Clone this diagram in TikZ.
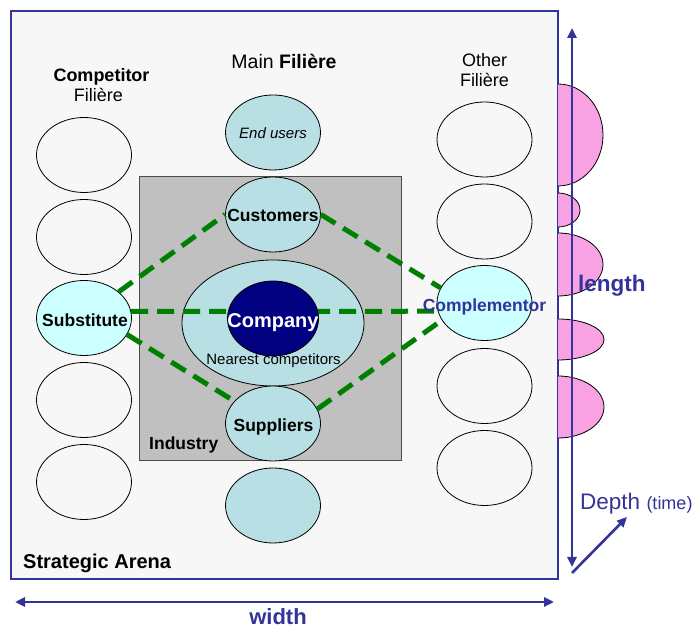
\documentclass[tikz,border=0pt]{standalone}
\usepackage{fontspec}
\setmainfont{Liberation Sans}
\usetikzlibrary{shapes.geometric,arrows.meta}

\definecolor{arena}{RGB}{247,247,247}
\definecolor{axisblue}{RGB}{51,51,153}
\definecolor{industrygray}{RGB}{192,192,192}
\definecolor{filfill}{RGB}{184,224,228}
\definecolor{sidefill}{RGB}{204,255,255}
\definecolor{navy}{RGB}{0,0,128}
\definecolor{linkgreen}{RGB}{0,128,0}
\definecolor{bump}{RGB}{248,162,228}

\newcommand{\fs}[1]{\fontsize{#1}{#1}\selectfont}

\tikzset{
  oval/.style={ellipse, draw=black, line width=0.8pt, minimum width=95pt,
    minimum height=75pt, inner sep=0pt},
  filoval/.style={oval, fill=filfill},
  sideoval/.style={oval, fill=sidefill},
  link/.style={draw=linkgreen, line width=5pt, dash pattern=on 17pt off 9pt},
  axis/.style={draw=axisblue, line width=2.6pt},
  axtip/.tip={Triangle[length=10pt,width=9pt]},
  lab/.style={inner sep=0pt, anchor=base, text=black},
  bumpfill/.style={fill=bump},
  bumpline/.style={draw=black, line width=0.8pt}
}

\begin{document}
\begin{tikzpicture}[x=1pt,y=1pt]
\useasboundingbox (0,0) rectangle (700,628);

% strategic arena
\node[draw=axisblue, line width=1.5pt, fill=arena, minimum width=547pt,
      minimum height=568pt, inner sep=0pt, anchor=south west] (arena) at (10,48) {};

% time-depth bumps on the right edge
\foreach \cy/\rx/\ry in {493/45/51, 418/22/17, 363.5/45/31.5, 288.5/46/20.5, 221/46/31}{
  \fill[bumpfill] (558,\cy+\ry) arc[start angle=90, end angle=-90,
     x radius=\rx, y radius=\ry] -- cycle;
  \draw[bumpline] (558,\cy+\ry) arc[start angle=90, end angle=-90,
     x radius=\rx, y radius=\ry];
}

% axes
\coordinate (lenTop) at (572,600);
\coordinate (lenBot) at (572,61);
\coordinate (widL) at (15,26);
\coordinate (widR) at (554,26);
\coordinate (depA) at (572,55);
\coordinate (depB) at (627,111);
\draw[axis, axtip-axtip] (lenBot) -- (lenTop);
\draw[axis, axtip-axtip] (widL) -- (widR);
\draw[axis, -axtip] (depA) -- (depB);

% industry
\node[draw=black!70, line width=0.6pt, fill=industrygray, minimum width=262pt,
      minimum height=284pt, inner sep=0pt, anchor=south west] (industry) at (139,167) {};

% competitor filiere
\node[oval] (c1) at (84,473) {};
\node[oval] (c2) at (84,391) {};
\node[sideoval] (sub) at (84,310) {};
\node[oval] (c4) at (84,228) {};
\node[oval] (c5) at (84,146) {};

% other filiere
\node[oval] (o1) at (484.5,488.5) {};
\node[oval] (o2) at (484.5,406.5) {};
\node[sideoval] (comp) at (484.5,325) {};
\node[oval] (o4) at (484.5,242) {};
\node[oval] (o5) at (484.5,160) {};

% main filiere
\node[filoval] (end) at (273,495.5) {};
\node[filoval] (cust) at (273,413.5) {};
\node[filoval, minimum width=182pt, minimum height=126pt] (near) at (273,305) {};
\node[filoval] (supp) at (273,204.5) {};
\node[filoval] (low) at (273,122.5) {};

% links
\draw[link] (sub.37) -- (cust.west);
\draw[link] (cust.east) -- (comp.161);
\draw[link] (sub.8) -- (comp.190);
\draw[link] (sub.-21) -- (supp.150);
\draw[link] (supp.18) -- (comp.202);

\node[oval, fill=navy, minimum width=91pt] (company) at (273,309.5) {};

% texts
\node[lab, font=\fs{18}\bfseries] (tcompet) at (101.5,546) {Competitor};
\node[lab, font=\fs{18}] (tcfil) at (98.5,526) {Filière};
\node[lab, font=\fs{19.5}] (tmain) at (284,559) {Main \textbf{Filière}};
\node[lab, font=\fs{18}] (tother) at (484.5,561) {Other};
\node[lab, font=\fs{18}] (tofil) at (484.5,541) {Filière};
\node[lab, font=\fs{15}\itshape] (tend) at (273,489) {End users};
\node[lab, font=\fs{17.5}\bfseries] (tcust) at (273,406) {Customers};
\node[lab, font=\fs{20}\bfseries, text=white] (tcompany) at (273,300) {Company};
\node[lab, font=\fs{15}] (tnear) at (273.5,263) {Nearest competitors};
\node[lab, font=\fs{17.5}\bfseries] (tsub) at (85,301) {Substitute};
\node[lab, font=\fs{17.5}\bfseries] (tsupp) at (273.5,196) {Suppliers};
\node[lab, font=\fs{17.5}\bfseries, anchor=base west] (tind) at (149,178) {Industry};
\node[lab, font=\fs{20}\bfseries, anchor=base west] (tarena) at (23,59) {Strategic Arena};
\node[lab, font=\fs{17.5}\bfseries, text=axisblue] (tcomp) at (484.5,316) {Complementor};
\node[lab, font=\fs{22.5}\bfseries, text=axisblue, anchor=base west] (tlen) at (578,336) {length};
\node[lab, font=\fs{22}\bfseries, text=axisblue] (twid) at (278,4) {width};
\node[lab, font=\fs{22.5}, text=axisblue, anchor=base west] (tdep) at (580,118) {Depth {\fs{18}(time)}};
\end{tikzpicture}
\end{document}
